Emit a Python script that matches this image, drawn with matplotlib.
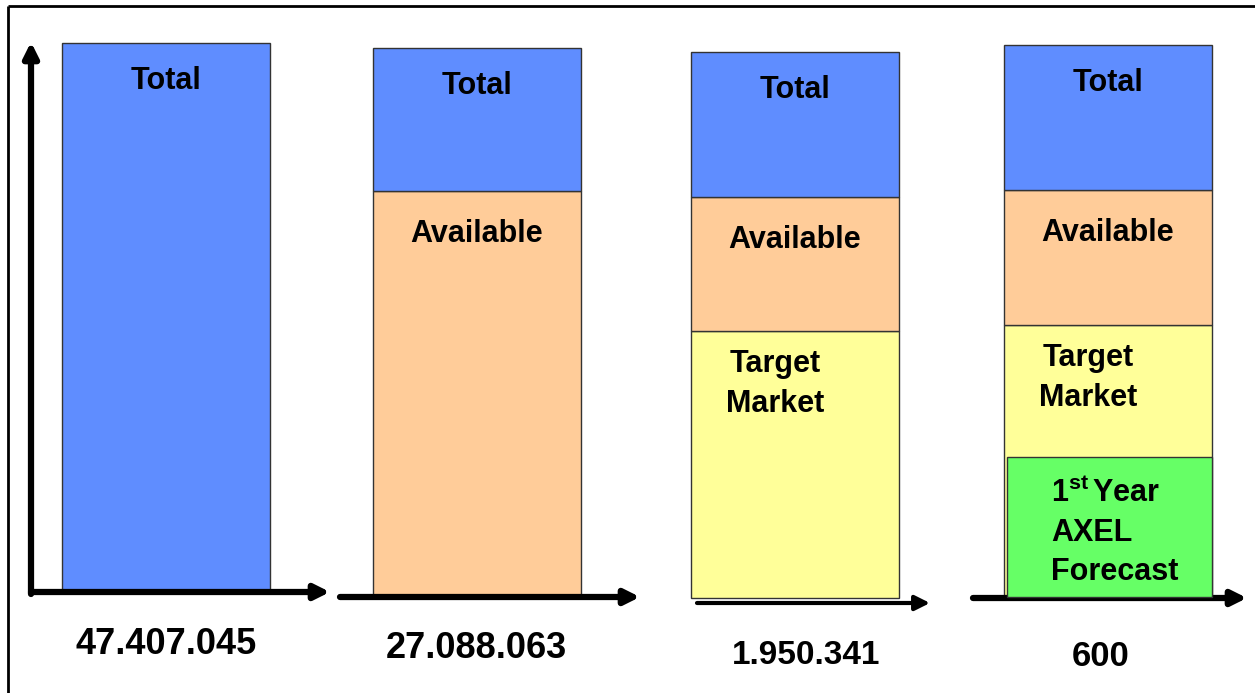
import matplotlib.pyplot as plt
from matplotlib import rcParams

rcParams['font.family'] = ['Liberation Sans', 'DejaVu Sans']
rcParams['mathtext.fontset'] = 'custom'
rcParams['mathtext.rm'] = 'Liberation Sans:bold'
rcParams['mathtext.it'] = 'Liberation Sans:bold'
rcParams['mathtext.bf'] = 'Liberation Sans:bold'

# 数据：每个面板的数值与分层（从下到上）
panel_values = ["47.407.045", "27.088.063", "1.950.341", "600"]
segment_names = [
    ["Total"],
    ["Available", "Total"],
    ["Target", "Available", "Total"],
    ["Target", "Available", "Total"],
]
segment_heights = [
    [547],
    [405, 143],
    [267, 134, 145],
    [272, 135, 145],
]
forecast_height = 140  # 1st Year AXEL Forecast (panel 4)

seg_colors = {
    "Total": "#5F8DFF",
    "Available": "#FFCC99",
    "Target": "#FFFF99",
    "Forecast": "#66FF66",
}
seg_text = {
    "Total": "Total",
    "Available": "Available",
    "Target": "Target\nMarket",
}
label_offset = {"Total": 38, "Available": 43, "Target": 53}

# 布局（像素，y 向上）
H = 693
bar_left = [62, 373, 691, 1004]
bar_width = 208
baseline = [H - 590, H - 596, H - 598, H - 597]
arrow_x = [(31, 330), (340, 640), (697, 930), (973, 1247)]
arrow_y = [H - 592, H - 597, H - 603, H - 598]
arrow_lw = [4.5, 4.5, 3, 4.5]
value_pos = [(166, H - 645), (476, H - 648), (806, H - 655), (1101, H - 657)]
value_size = [26, 26, 24, 25]

fig = plt.figure(figsize=(12.55, 6.93), dpi=100)
ax = fig.add_axes([0, 0, 1, 1])
ax.set_xlim(0, 1255)
ax.set_ylim(0, H)
ax.axis('off')

# 外框（上边和左边）
ax.plot([8, 1255], [H - 6, H - 6], color='black', lw=2, solid_capstyle='butt')
ax.plot([8, 8], [H - 6, 0], color='black', lw=2, solid_capstyle='butt')

for i in range(4):
    bottom = baseline[i]
    cx = bar_left[i] + bar_width / 2
    for name, h in zip(segment_names[i], segment_heights[i]):
        ax.bar(bar_left[i], h, width=bar_width, bottom=bottom, align='edge',
               color=seg_colors[name], edgecolor='#333333', linewidth=1, zorder=2)
        top = bottom + h
        dx = -20 if name == "Target" else 0
        ax.text(cx + dx, top - label_offset[name], seg_text[name], ha='center', va='center',
                fontsize=22, fontweight='bold', linespacing=1.4, zorder=4)
        bottom = top

    # 坐标轴箭头
    ax.annotate('', xy=(arrow_x[i][1], arrow_y[i]), xytext=(arrow_x[i][0], arrow_y[i]),
                arrowprops=dict(arrowstyle='-|>', lw=arrow_lw[i], color='black',
                                mutation_scale=22, shrinkA=0, shrinkB=0), zorder=3)

    ax.text(value_pos[i][0], value_pos[i][1], panel_values[i], ha='center', va='center',
            fontsize=value_size[i], fontweight='bold')

# 第一个面板的纵轴
ax.annotate('', xy=(31, H - 42), xytext=(31, arrow_y[0] - 2),
            arrowprops=dict(arrowstyle='-|>', lw=4.5, color='black',
                            mutation_scale=22, shrinkA=0, shrinkB=0), zorder=3)

# 第四个面板的预测块
ax.bar(bar_left[3] + 3, forecast_height, width=bar_width - 3, bottom=baseline[3], align='edge',
       color=seg_colors["Forecast"], edgecolor='#333333', linewidth=1, zorder=3)
ax.text(bar_left[3] + 47, baseline[3] + forecast_height - 76,
        "1$^{\\mathrm{st}}\\,$Year\nAXEL\nForecast", ha='left', va='center',
        fontsize=22, fontweight='bold', linespacing=1.4, zorder=4)

fig.savefig('out.png', dpi=100)
